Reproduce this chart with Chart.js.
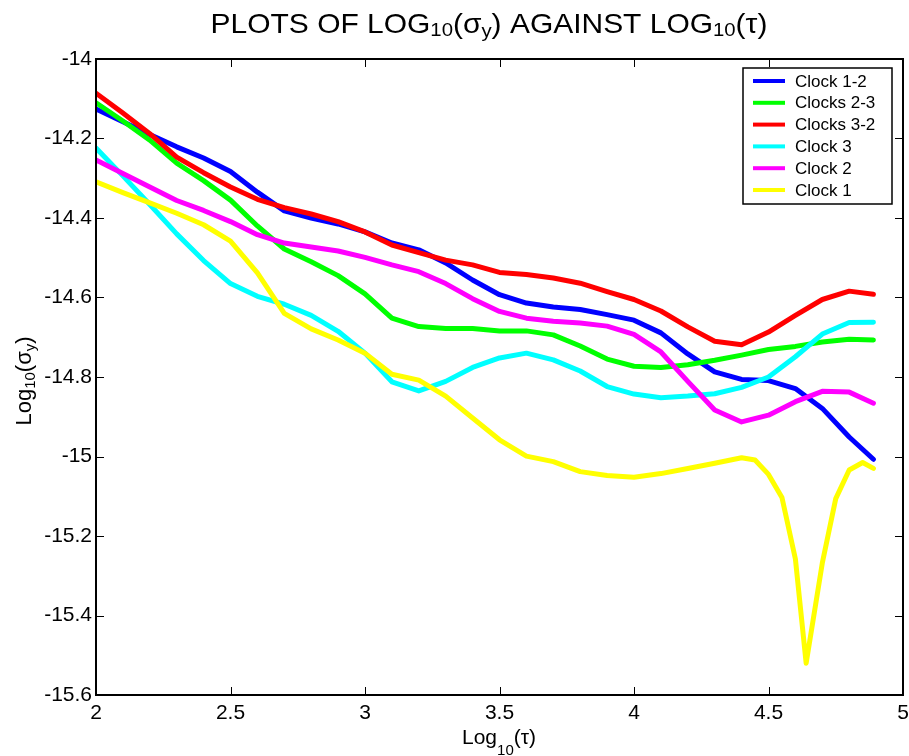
<!DOCTYPE html>
<html>
<head>
<meta charset="utf-8">
<script src="https://cdn.jsdelivr.net/npm/chart.js@4.4.0/dist/chart.umd.min.js"></script>
<style>
html, body { margin: 0; padding: 0; background: #fff; }
</style>
</head>
<body>
<canvas id="sigma-tau" width="909" height="756"></canvas>
<script>
// log10(tau) sample points shared by most curves
var logTau = [2.0, 2.1, 2.2, 2.3, 2.4, 2.5, 2.6, 2.7, 2.8, 2.9,
              3.0, 3.1, 3.2, 3.3, 3.4, 3.5, 3.6, 3.7, 3.8, 3.9,
              4.0, 4.1, 4.2, 4.3, 4.4, 4.5, 4.6, 4.7, 4.8, 4.89];

// Clock 1 has a sharp dip near 4.64, so it gets a few extra points
var logTauClock1 = [2.0, 2.1, 2.2, 2.3, 2.4, 2.5, 2.6, 2.7, 2.8, 2.9,
                    3.0, 3.1, 3.2, 3.3, 3.4, 3.5, 3.6, 3.7, 3.8, 3.9,
                    4.0, 4.1, 4.2, 4.3, 4.4, 4.45, 4.5, 4.55, 4.6, 4.64,
                    4.7, 4.75, 4.8, 4.85, 4.89];

var clock12 = [-14.126, -14.158, -14.19, -14.221, -14.249, -14.283, -14.335, -14.382, -14.40, -14.415,
               -14.435, -14.463, -14.48, -14.513, -14.556, -14.593, -14.614, -14.624, -14.63, -14.643,
               -14.657, -14.689, -14.742, -14.787, -14.806, -14.809, -14.829, -14.879, -14.951, -15.007];

var clocks23 = [-14.11, -14.156, -14.204, -14.262, -14.306, -14.355, -14.42, -14.478, -14.51, -14.545,
                -14.591, -14.652, -14.673, -14.678, -14.678, -14.684, -14.684, -14.694, -14.722, -14.755,
                -14.773, -14.776, -14.769, -14.758, -14.745, -14.731, -14.723, -14.712, -14.705, -14.707];

var clocks32 = [-14.086, -14.136, -14.188, -14.247, -14.286, -14.322, -14.353, -14.374, -14.39, -14.409,
                -14.435, -14.468, -14.487, -14.506, -14.518, -14.537, -14.542, -14.551, -14.564, -14.585,
                -14.605, -14.634, -14.674, -14.71, -14.719, -14.687, -14.645, -14.605, -14.584, -14.592];

var clock3 = [-14.224, -14.294, -14.366, -14.44, -14.507, -14.565, -14.597, -14.617, -14.645, -14.685,
              -14.74, -14.812, -14.835, -14.811, -14.776, -14.752, -14.74, -14.757, -14.785, -14.824,
              -14.843, -14.852, -14.848, -14.842, -14.826, -14.8, -14.749, -14.692, -14.663, -14.662];

var clock2 = [-14.254, -14.288, -14.322, -14.356, -14.381, -14.409, -14.442, -14.463, -14.473, -14.483,
              -14.499, -14.518, -14.535, -14.565, -14.603, -14.635, -14.652, -14.66, -14.664, -14.672,
              -14.693, -14.737, -14.811, -14.883, -14.913, -14.896, -14.862, -14.836, -14.838, -14.866];

var clock1 = [-14.309, -14.336, -14.362, -14.388, -14.417, -14.458, -14.538, -14.64, -14.679, -14.707,
              -14.74, -14.793, -14.808, -14.848, -14.903, -14.958, -14.999, -15.013, -15.038, -15.048,
              -15.052, -15.043, -15.03, -15.017, -15.003, -15.009, -15.045, -15.103, -15.258, -15.52,
              -15.268, -15.106, -15.034, -15.015, -15.03];

var seriesNames = ['Clock 1-2', 'Clocks 2-3', 'Clocks 3-2', 'Clock 3', 'Clock 2', 'Clock 1'];
var seriesColors = ['#0000ff', '#00ff00', '#ff0000', '#00ffff', '#ff00ff', '#ffff00'];

var xTicks = [2, 2.5, 3, 3.5, 4, 4.5, 5];
var yTicks = [-14, -14.2, -14.4, -14.6, -14.8, -15, -15.2, -15.4, -15.6];

var FONT = '"Liberation Sans", Arial, Helvetica, sans-serif';

function points(xs, ys) {
    return ys.map(function (y, i) { return { x: xs[i], y: y }; });
}

// draw a run of text pieces, some of them subscripts; stretch widens it a little
function drawRich(ctx, parts, x, y, align, stretch) {
    var k = stretch || 1;
    var total = 0;
    parts.forEach(function (p) {
        ctx.font = p.size + 'px ' + FONT;
        p.w = ctx.measureText(p.text).width;
        total += p.w;
    });
    ctx.save();
    ctx.translate(x, y);
    ctx.scale(k, 1);
    var cx = align === 'center' ? -total / 2 : 0;
    ctx.textAlign = 'left';
    ctx.textBaseline = 'alphabetic';
    parts.forEach(function (p) {
        ctx.font = p.size + 'px ' + FONT;
        ctx.fillText(p.text, cx, p.dy || 0);
        cx += p.w;
    });
    ctx.restore();
}

var frameAndText = {
    id: 'frameAndText',
    afterDatasetsDraw: function (chart) {
        var ctx = chart.ctx, a = chart.chartArea;
        var sx = chart.scales.x, sy = chart.scales.y;
        ctx.save();
        ctx.strokeStyle = '#000';
        ctx.lineWidth = 1;
        ctx.beginPath();
        xTicks.forEach(function (v) {
            var p = Math.round(sx.getPixelForValue(v)) + 0.5;
            ctx.moveTo(p, a.bottom); ctx.lineTo(p, a.bottom - 8);
            ctx.moveTo(p, a.top); ctx.lineTo(p, a.top + 8);
        });
        yTicks.forEach(function (v) {
            var p = Math.round(sy.getPixelForValue(v)) + 0.5;
            ctx.moveTo(a.left, p); ctx.lineTo(a.left + 8, p);
            ctx.moveTo(a.right, p); ctx.lineTo(a.right - 8, p);
        });
        ctx.stroke();
        ctx.lineWidth = 2;
        ctx.strokeRect(a.left, a.top, a.right - a.left, a.bottom - a.top);

        // legend box, top right inside the axes
        var lw = 149, lh = 136;
        var lx = a.right - 11 - lw, ly = a.top + 9;
        ctx.fillStyle = '#fff';
        ctx.fillRect(lx, ly, lw, lh);
        ctx.lineWidth = 1.5;
        ctx.strokeRect(lx, ly, lw, lh);
        ctx.font = '17px ' + FONT;
        ctx.textAlign = 'left';
        ctx.textBaseline = 'middle';
        seriesNames.forEach(function (name, i) {
            var ry = ly + 13 + i * 21.8;
            ctx.strokeStyle = seriesColors[i];
            ctx.lineWidth = 4;
            ctx.beginPath();
            ctx.moveTo(lx + 10, ry);
            ctx.lineTo(lx + 42, ry);
            ctx.stroke();
            ctx.fillStyle = '#000';
            ctx.fillText(name, lx + 52, ry + 1);
        });
        ctx.restore();
    },
    afterDraw: function (chart) {
        var ctx = chart.ctx;
        ctx.save();
        ctx.fillStyle = '#000';
        drawRich(ctx, [
            { text: 'PLOTS OF LOG', size: 28 },
            { text: '10', size: 19, dy: 3 },
            { text: '(\u03c3', size: 28 },
            { text: 'y', size: 19, dy: 4 },
            { text: ') AGAINST LOG', size: 28 },
            { text: '10', size: 19, dy: 3 },
            { text: '(\u03c4)', size: 28 }
        ], 489, 33, 'center', 1.07);

        drawRich(ctx, [
            { text: 'Log', size: 21 },
            { text: '10', size: 15, dy: 11 },
            { text: '(\u03c4)', size: 21 }
        ], 499, 744, 'center');

        ctx.translate(31, 381);
        ctx.rotate(-Math.PI / 2);
        drawRich(ctx, [
            { text: 'Log', size: 22 },
            { text: '10', size: 15, dy: 4 },
            { text: '(\u03c3', size: 22 },
            { text: 'y', size: 15, dy: 4 },
            { text: ')', size: 22 }
        ], 0, 0, 'center');
        ctx.restore();
    }
};

var datasets = [clock12, clocks23, clocks32, clock3, clock2].map(function (ys, i) {
    return {
        label: seriesNames[i],
        data: points(logTau, ys),
        borderColor: seriesColors[i],
        backgroundColor: seriesColors[i],
        borderWidth: 5,
        order: 6 - i
    };
});
datasets.push({
    label: seriesNames[5],
    data: points(logTauClock1, clock1),
    borderColor: seriesColors[5],
    backgroundColor: seriesColors[5],
    borderWidth: 5,
    order: 0
});

var sigmaContext = document.getElementById('sigma-tau').getContext('2d');
var sigmaChart = new Chart(sigmaContext, {
    type: 'line',
    data: { datasets: datasets },
    options: {
        responsive: false,
        animation: false,
        layout: { padding: { top: 59, right: 6, left: 0, bottom: 0 } },
        elements: {
            point: { radius: 0 },
            line: { tension: 0, borderJoinStyle: 'round', borderCapStyle: 'round' }
        },
        plugins: {
            legend: { display: false },
            title: { display: false },
            tooltip: { enabled: false }
        },
        scales: {
            x: {
                type: 'linear',
                position: 'bottom',
                min: 2,
                max: 5,
                grid: { display: false, drawTicks: false },
                border: { display: false },
                ticks: {
                    color: '#000',
                    font: { family: FONT, size: 21 },
                    padding: 6,
                    maxRotation: 0,
                    autoSkip: false,
                    callback: function (v) { return String(v); }
                },
                afterBuildTicks: function (s) { s.ticks = xTicks.map(function (v) { return { value: v }; }); },
                afterFit: function (s) { s.height = 61; s.paddingLeft = 0; s.paddingRight = 0; }
            },
            y: {
                type: 'linear',
                position: 'left',
                min: -15.6,
                max: -14,
                grid: { display: false, drawTicks: false },
                border: { display: false },
                ticks: {
                    color: '#000',
                    font: { family: FONT, size: 21 },
                    padding: 4,
                    autoSkip: false,
                    callback: function (v) { return String(v); }
                },
                afterBuildTicks: function (s) { s.ticks = yTicks.map(function (v) { return { value: v }; }); },
                afterFit: function (s) { s.width = 96; s.paddingTop = 0; s.paddingBottom = 0; }
            }
        }
    },
    plugins: [frameAndText]
});
</script>
</body>
</html>
